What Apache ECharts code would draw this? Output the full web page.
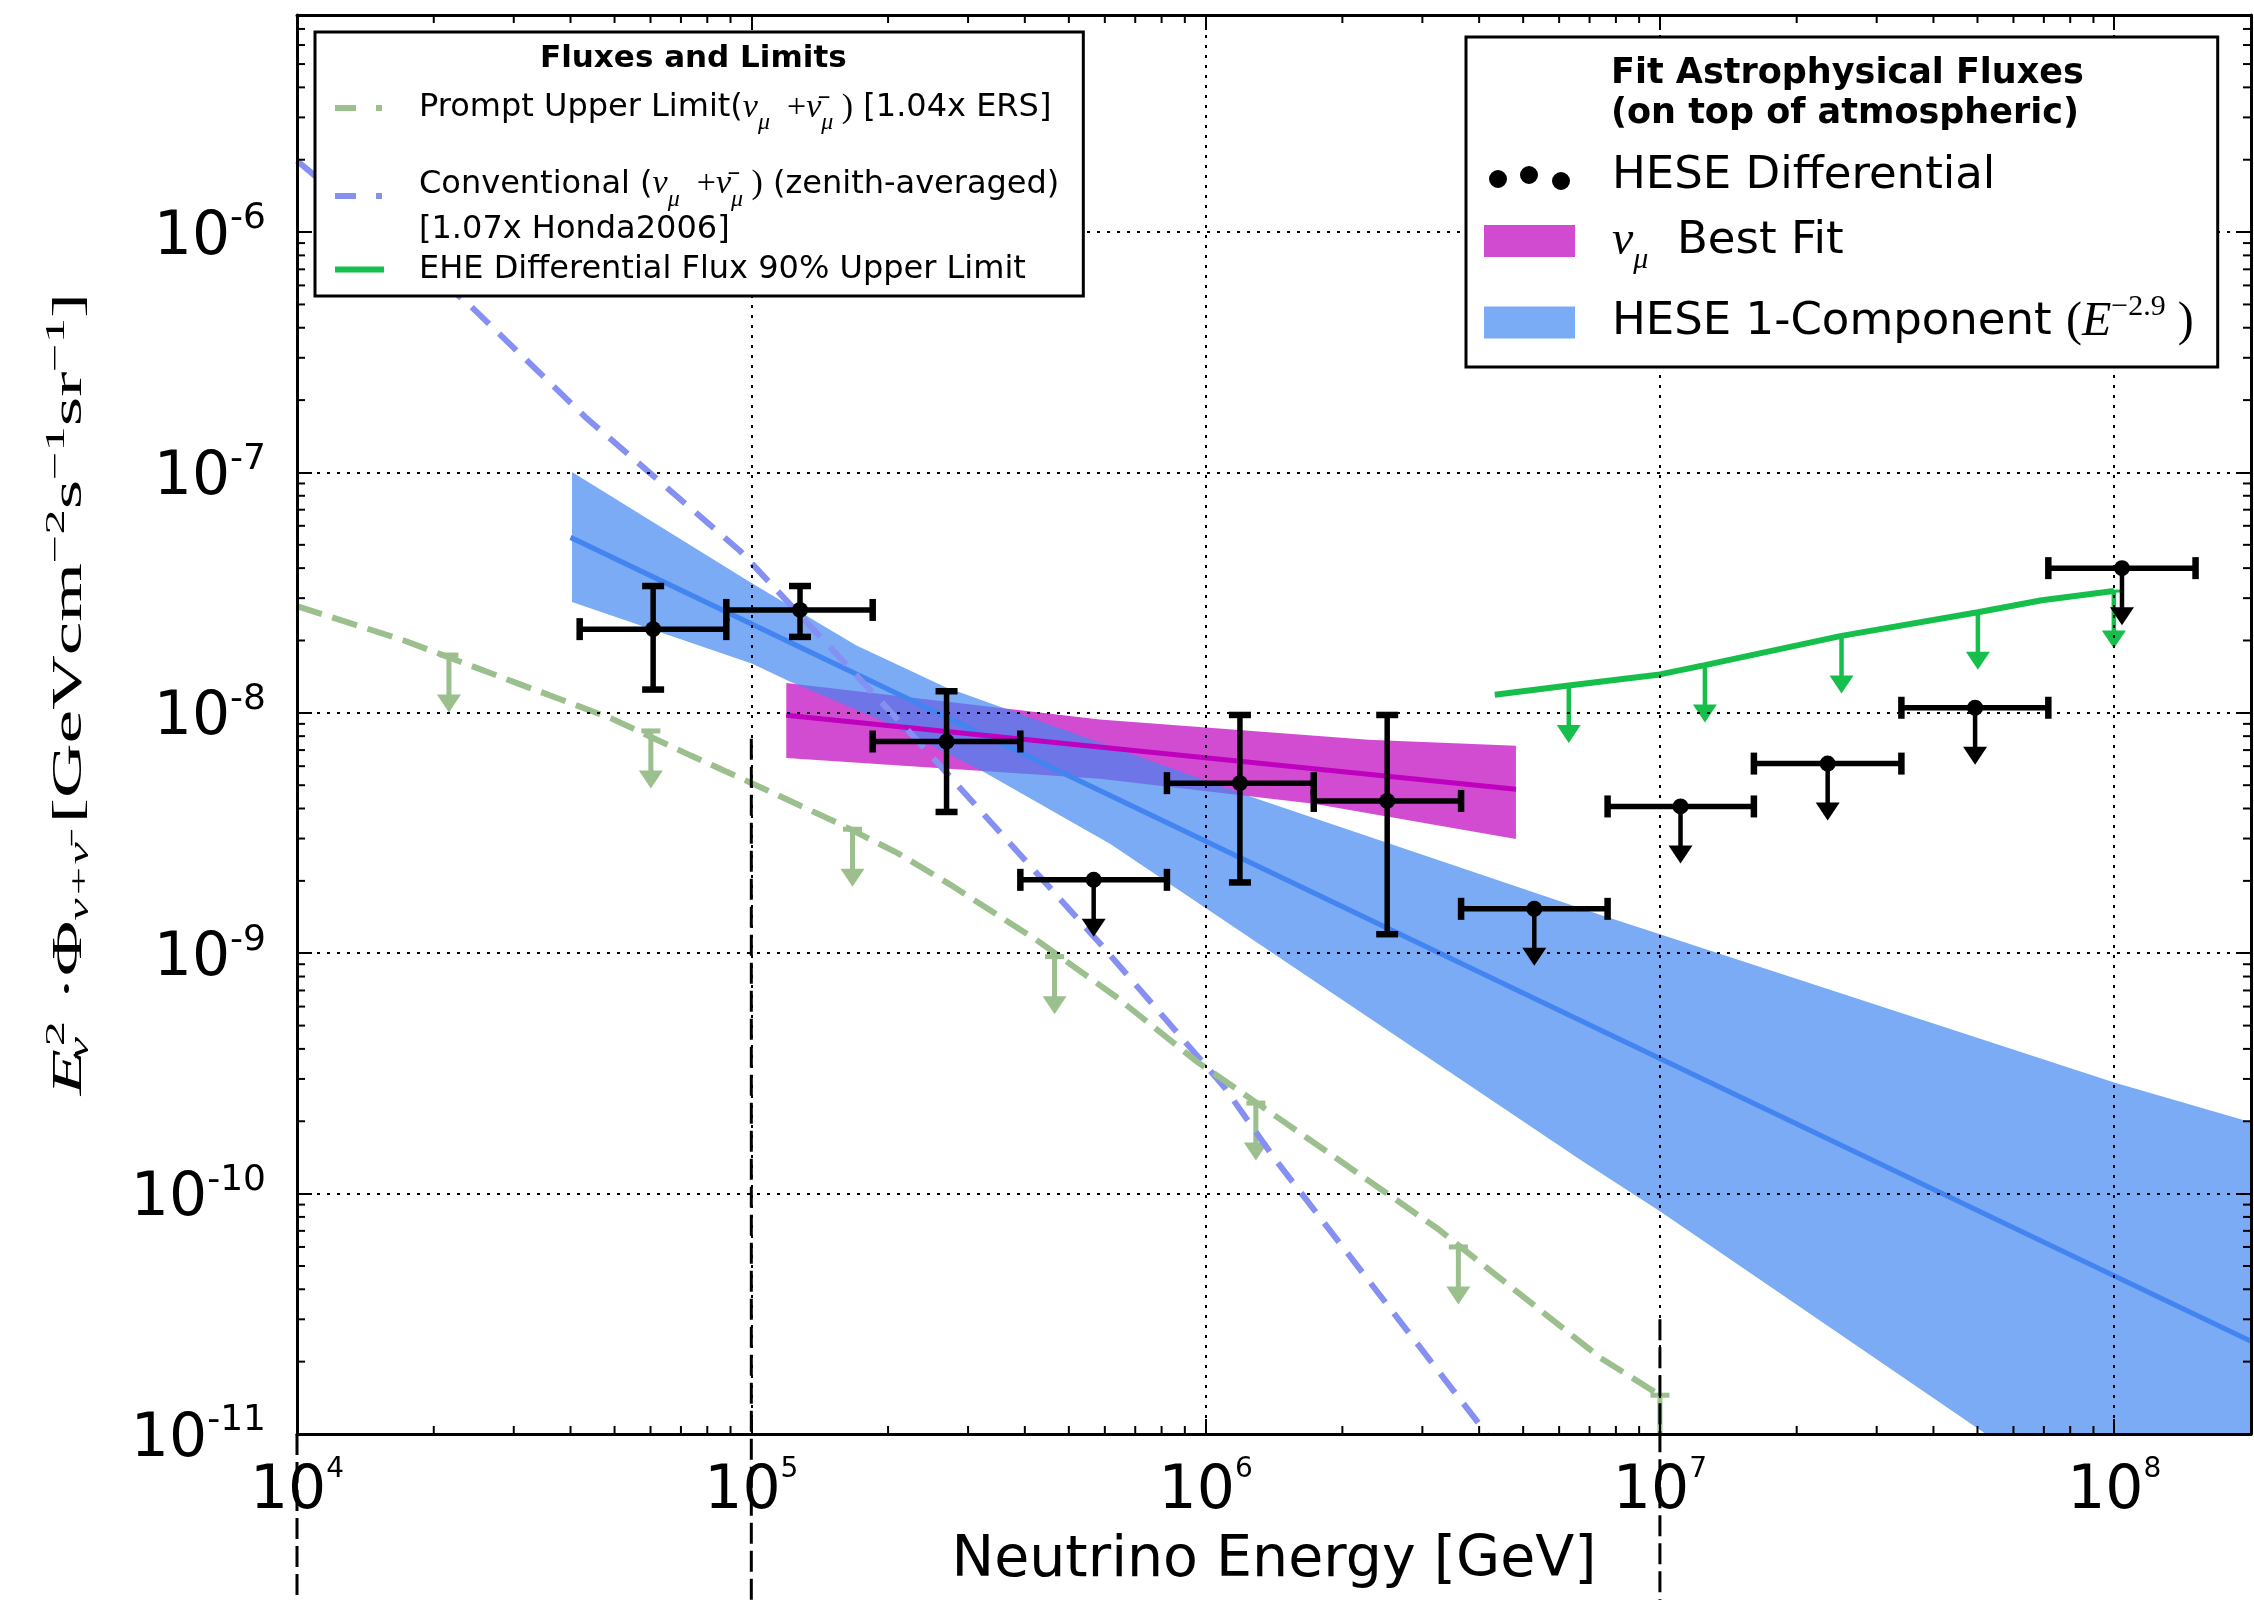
<!DOCTYPE html>
<html>
<head>
<meta charset="utf-8">
<title>Astrophysical neutrino fluxes</title>
<script src="https://cdn.jsdelivr.net/npm/echarts@6/dist/echarts.min.js"></script>
<style>
html,body{margin:0;padding:0;background:#fff;}
#chart{width:2254px;height:1600px;}
</style>
</head>
<body>
<div id="chart"></div>
<script>
// ---------------- axis ranges / ticks ----------------
const X_RANGE = [1e4, 2e8];
const Y_RANGE = [1e-11, 8e-6];
const MINOR_MANTISSAS = [2, 3, 4, 5, 6, 7, 8, 9];
const X_DECADES = [1e4, 1e5, 1e6, 1e7, 1e8];
const Y_DECADES = [1e-11, 1e-10, 1e-9, 1e-8, 1e-7, 1e-6];

// ---------------- HESE differential points ----------------
const heseE   = [6.08e4, 1.28e5, 2.69e5, 5.67e5, 1.19e6, 2.51e6, 5.29e6, 1.11e7, 2.34e7, 4.94e7, 1.04e8];
const heseELo = [4.19e4, 8.81e4, 1.85e5, 3.91e5, 8.22e5, 1.73e6, 3.65e6, 7.67e6, 1.61e7, 3.40e7, 7.16e7];
const heseEHi = [8.81e4, 1.85e5, 3.91e5, 8.22e5, 1.73e6, 3.65e6, 7.67e6, 1.61e7, 3.40e7, 7.16e7, 1.51e8];
const heseF   = [2.23e-8, 2.68e-8, 7.6e-9, 2.02e-9, 5.1e-9, 4.3e-9, 1.53e-9, 4.08e-9, 6.15e-9, 1.05e-8, 4.0e-8];
const heseFLo = [1.25e-8, 2.07e-8, 3.87e-9, null, 1.97e-9, 1.2e-9, null, null, null, null, null];
const heseFHi = [3.37e-8, 3.37e-8, 1.23e-8, null, 9.8e-9, 9.8e-9, null, null, null, null, null];
const heseUL  = [0, 0, 0, 1, 0, 0, 1, 1, 1, 1, 1];

// ---------------- HESE 1-component (E^-2.9) band ----------------
const hese1UpperE = [4.03e4, 1.005e5, 1.70e5, 2.67e5, 1.23e6, 7.38e6, 1.0e7, 1.0e8, 2.0e8];
const hese1UpperF = [1.005e-7, 3.45e-8, 1.91e-8, 1.28e-8, 4.54e-9, 1.445e-9, 1.20e-9, 2.90e-10, 1.98e-10];
const hese1LowerE = [4.03e4, 1.005e5, 1.205e5, 1.93e5, 3.20e5, 6.17e5, 6.73e6, 1.0e7, 5.22e7, 2.0e8];
const hese1LowerF = [2.89e-8, 1.60e-8, 1.36e-8, 9.31e-9, 5.77e-9, 2.85e-9, 1.37e-10, 8.45e-11, 1.0e-11, 1.0e-11];
const hese1LineE  = [4.0e4, 2.0e8];
const hese1LineF  = [5.37e-8, 2.43e-11];

// ---------------- numu best fit band ----------------
const numuUpperE = [1.194e5, 5.85e5, 2.28e6, 4.82e6];
const numuUpperF = [1.33e-8, 9.38e-9, 7.73e-9, 7.29e-9];
const numuLowerE = [1.194e5, 5.85e5, 1.73e6, 4.82e6];
const numuLowerF = [6.49e-9, 5.32e-9, 4.19e-9, 2.99e-9];
const numuLineE  = [1.194e5, 4.82e6];
const numuLineF  = [9.77e-9, 4.81e-9];

// ---------------- conventional atmospheric ----------------
const convE = [1.0e4, 2.38e4, 4.34e4, 9.42e4, 2.36e5, 5.85e5, 1.10e6, 1.41e6, 4.16e6];
const convF = [1.98e-6, 5.04e-7, 1.68e-7, 4.74e-8, 7.41e-9, 1.10e-9, 2.77e-10, 1.42e-10, 1.0e-11];

// ---------------- prompt upper limit ----------------
const promptE = [1.0e4, 1.72e4, 3.08e4, 4.90e4, 7.36e4, 1.08e5, 1.57e5, 2.10e5, 2.74e5, 4.23e5, 6.35e5, 9.55e5, 1.51e6, 3.23e6, 7.38e6, 1.0e7];
const promptF = [2.78e-8, 2.0e-8, 1.32e-8, 9.51e-9, 6.64e-9, 4.78e-9, 3.44e-9, 2.61e-9, 1.93e-9, 1.14e-9, 6.59e-10, 3.55e-10, 1.95e-10, 7.18e-11, 2.08e-11, 1.45e-11];
const promptArrowE = [2.16e4, 6.01e4, 1.67e5, 4.65e5, 1.29e6, 3.60e6, 1.0e7];
const promptArrowF = [1.74e-8, 8.41e-9, 3.28e-9, 9.68e-10, 2.38e-10, 6.0e-11, 1.45e-11];

// ---------------- EHE differential 90% upper limit ----------------
const eheE = [4.33e6, 6.30e6, 1.0e7, 1.256e7, 2.51e7, 5.01e7, 6.93e7, 9.98e7];
const eheF = [1.19e-8, 1.30e-8, 1.445e-8, 1.58e-8, 2.09e-8, 2.62e-8, 2.94e-8, 3.21e-8];
const eheArrowE = [6.30e6, 1.256e7, 2.51e7, 5.01e7, 9.98e7];
const eheArrowF = [1.30e-8, 1.58e-8, 2.09e-8, 2.62e-8, 3.21e-8];

// ---------------- vertical dashed guides (below the plot) ----------------
const guideE = [1e4, 1e5, 1e7];
const guideF = [1e-11, 7.8e-9, 3.0e-11];

// ---------------- colours ----------------
const COL = {
  hese1Band: 'rgba(66,135,240,0.7)', hese1Line: '#4285f0', hese1Legend: '#7aabf5',
  numuBand: 'rgba(191,0,191,0.7)', numuLine: '#bf00bf', numuLegend: '#d14bd1',
  conv: '#8590f2', prompt: '#9bbf8d', ehe: '#16bf4b', black: '#000'
};

const NAMES = {
  prompt: 'Prompt Upper Limit',
  conv: 'Conventional',
  ehe: 'EHE Differential Flux 90% Upper Limit',
  hese: 'HESE Differential',
  numu: 'Best Fit',
  hese1: 'HESE 1-Component'
};

const LEGEND_LABELS = {};
LEGEND_LABELS[NAMES.prompt] = '{p|Prompt Upper Limit(}{pm|ν}{ps|μ}{pn|  +}{pm|ν̄}{ps|μ}{pn| )}{p| [1.04x ERS]}';
LEGEND_LABELS[NAMES.conv] = '{cg| }\n{c|Conventional (}{cm|ν}{cs|μ}{cn|  +}{cm|ν̄}{cs|μ}{cn| )}{c| (zenith-averaged)}\n{c|[1.07x Honda2006]}';
LEGEND_LABELS[NAMES.ehe] = '{e|EHE Differential Flux 90% Upper Limit}';
LEGEND_LABELS[NAMES.hese] = '{r|HESE Differential}';
LEGEND_LABELS[NAMES.numu] = '{rm|ν}{rs|μ}{rb|  Best Fit}';
LEGEND_LABELS[NAMES.hese1] = '{t|HESE 1-Component }{tn|(}{ti|E}{tp|−2.9}{tn| )}';

const SANS = 'DejaVu Sans';
const SERIF = 'Liberation Serif';

function rs(size, lh, family, extra) {
  return Object.assign({fontSize: size, lineHeight: lh, fontFamily: family, color: '#000'}, extra || {});
}
const LEFT_RICH = {
  p: rs(32, 64, SANS), pm: rs(34, 64, SERIF, {fontStyle: 'italic'}), pn: rs(34, 64, SERIF),
  ps: rs(24, 64, SERIF, {fontStyle: 'italic', padding: [30, 0, 0, 0]}),
  cg: rs(10, 22, SANS),
  c: rs(32, 45, SANS), cm: rs(34, 45, SERIF, {fontStyle: 'italic'}), cn: rs(34, 45, SERIF),
  cs: rs(24, 45, SERIF, {fontStyle: 'italic', padding: [30, 0, 0, 0]}),
  e: rs(32, 35, SANS)
};
const RIGHT_RICH = {
  r: rs(45, 56, SANS),
  rb: rs(45, 68, SANS), rm: rs(48, 68, SERIF, {fontStyle: 'italic'}),
  rs: rs(30, 68, SERIF, {fontStyle: 'italic', verticalAlign: 'bottom'}),
  t: rs(45, 89, SANS), tn: rs(48, 89, SERIF), ti: rs(48, 89, SERIF, {fontStyle: 'italic'}),
  tp: rs(30, 89, SERIF, {padding: [0, 0, 30, 0]})
};

const ICON_DASH = 'path://M0,0M49,7M0,0.5H21V6.5H0ZM41,0.5H47V6.5H41Z';
const ICON_SOLID = 'path://M0,0M49,7M0,0.5H49V6.5H0Z';
const ICON_DOTS = 'path://M0,0M91,32M5,19a9,9 0 1,0 18,0a9,9 0 1,0 -18,0ZM36,15a9,9 0 1,0 18,0a9,9 0 1,0 -18,0ZM68,21a9,9 0 1,0 18,0a9,9 0 1,0 -18,0Z';

// ---------------- helpers ----------------
function powLabel(v) {
  const e = Math.log10(v), r = Math.round(e);
  if (Math.abs(e - r) > 1e-6) return '';
  return '{b|10}{s|' + r + '}';
}
function pairs(xs, ys) { return xs.map(function (x, i) { return [x, ys[i]]; }); }

function bandRenderer(upE, upF, loE, loF, fill) {
  return function (params, api) {
    const pts = [];
    for (let i = 0; i < upE.length; i++) pts.push(api.coord([upE[i], upF[i]]));
    for (let i = loE.length - 1; i >= 0; i--) pts.push(api.coord([loE[i], loF[i]]));
    return {type: 'polygon', shape: {points: pts}, style: {fill: fill}};
  };
}

function arrowShapes(x, y, len, color, shaftW, capW, capLW, bottom) {
  const out = [];
  const headH = 18, headHalf = 12;
  if (capW) out.push({type: 'line', shape: {x1: x - capW / 2, y1: y, x2: x + capW / 2, y2: y}, style: {stroke: color, lineWidth: capLW}});
  const tip = y + len;
  if (tip - headH >= bottom) {
    out.push({type: 'line', shape: {x1: x, y1: y, x2: x, y2: bottom}, style: {stroke: color, lineWidth: shaftW}});
  } else {
    out.push({type: 'line', shape: {x1: x, y1: y, x2: x, y2: tip - headH + 2}, style: {stroke: color, lineWidth: shaftW}});
    out.push({type: 'polygon', shape: {points: [[x - headHalf, tip - headH], [x + headHalf, tip - headH], [x, tip]]}, style: {fill: color}});
  }
  return out;
}

function heseRender(params, api) {
  const E = api.value(0), F = api.value(1), Elo = api.value(2), Ehi = api.value(3);
  const Flo = api.value(4), Fhi = api.value(5), ul = api.value(6);
  const cs = params.coordSys;
  const c = api.coord([E, F]);
  const l = api.coord([Elo, F]);
  const r = api.coord([Ehi, F]);
  const k = [];
  const st = {stroke: '#000', lineWidth: 5.5};
  const cap = {stroke: '#000', lineWidth: 6.5};
  const h = 11;
  k.push({type: 'line', shape: {x1: l[0], y1: c[1], x2: r[0], y2: c[1]}, style: st});
  k.push({type: 'line', shape: {x1: l[0], y1: c[1] - h, x2: l[0], y2: c[1] + h}, style: cap});
  k.push({type: 'line', shape: {x1: r[0], y1: c[1] - h, x2: r[0], y2: c[1] + h}, style: cap});
  if (!ul) {
    const lo = api.coord([E, Flo]), hi = api.coord([E, Fhi]);
    k.push({type: 'line', shape: {x1: c[0], y1: lo[1], x2: c[0], y2: hi[1]}, style: st});
    k.push({type: 'line', shape: {x1: c[0] - h, y1: lo[1], x2: c[0] + h, y2: lo[1]}, style: cap});
    k.push({type: 'line', shape: {x1: c[0] - h, y1: hi[1], x2: c[0] + h, y2: hi[1]}, style: cap});
  } else {
    arrowShapes(c[0], c[1], 57, '#000', 4.5, 0, 0, cs.y + cs.height).forEach(function (s) { k.push(s); });
  }
  k.push({type: 'circle', shape: {cx: c[0], cy: c[1], r: 8}, style: {fill: '#000'}});
  return {type: 'group', children: k};
}

function limitArrowRenderer(color, shaftW, capW, capLW) {
  return function (params, api) {
    const cs = params.coordSys;
    const p = api.coord([api.value(0), api.value(1)]);
    return {type: 'group', children: arrowShapes(p[0], p[1], 57.5, color, shaftW, capW, capLW, cs.y + cs.height)};
  };
}

function minorXRender(params, api) {
  const cs = params.coordSys;
  const x = api.coord([api.value(0), Y_RANGE[0]])[0];
  const b = cs.y + cs.height, t = cs.y;
  return {type: 'group', children: [
    {type: 'line', shape: {x1: x, y1: b, x2: x, y2: b - 8}, style: {stroke: '#000', lineWidth: 2}},
    {type: 'line', shape: {x1: x, y1: t, x2: x, y2: t + 8}, style: {stroke: '#000', lineWidth: 2}}
  ]};
}
function minorYRender(params, api) {
  const cs = params.coordSys;
  const y = api.coord([X_RANGE[0], api.value(1)])[1];
  const l = cs.x, r = cs.x + cs.width;
  return {type: 'group', children: [
    {type: 'line', shape: {x1: l, y1: y, x2: l + 8, y2: y}, style: {stroke: '#000', lineWidth: 2}},
    {type: 'line', shape: {x1: r, y1: y, x2: r - 8, y2: y}, style: {stroke: '#000', lineWidth: 2}}
  ]};
}
function guideRender(params, api) {
  const p = api.coord([api.value(0), api.value(1)]);
  return {type: 'line', shape: {x1: p[0], y1: p[1], x2: p[0], y2: api.getHeight()}, style: {stroke: '#000', lineWidth: 3, lineDash: [21, 7]}};
}

// minor tick value lists
const xMinor = [], yMinor = [];
X_DECADES.forEach(function (d) { MINOR_MANTISSAS.forEach(function (m) { const v = d * m; if (v > X_RANGE[0] && v < X_RANGE[1] * 0.999) xMinor.push([v, Y_RANGE[0]]); }); });
Y_DECADES.forEach(function (d) { MINOR_MANTISSAS.forEach(function (m) { const v = d * m; if (v > Y_RANGE[0] && v < Y_RANGE[1] * 0.999) yMinor.push([X_RANGE[0], v]); }); });

const heseRows = heseE.map(function (e, i) {
  return [e, heseF[i], heseELo[i], heseEHi[i], heseFLo[i] || heseF[i], heseFHi[i] || heseF[i], heseUL[i]];
});

const axisBase = {
  type: 'log', logBase: 10,
  axisLine: {show: true, onZero: false, lineStyle: {color: '#000', width: 3}},
  axisTick: {show: true, inside: true, length: 15, lineStyle: {color: '#000', width: 2}},
  z: 3
};
const LABEL_X_RICH = {
  b: {fontSize: 60, lineHeight: 70, fontFamily: SANS, color: '#000'},
  s: {fontSize: 28, lineHeight: 70, fontFamily: SANS, color: '#000', padding: [0, 0, 44, 0]}
};
const LABEL_Y_RICH = {
  b: {fontSize: 60, lineHeight: 70, fontFamily: SANS, color: '#000', padding: [12, 0, 0, 0]},
  s: {fontSize: 36, lineHeight: 70, fontFamily: SANS, color: '#000', padding: [0, 0, 26, 0]}
};

const Y_TITLE = '{i|E}{sb|ν}{sp|2}{n| ·}{n|Φ}{sb2|ν+ν̄}{n| [GeVcm}{sp2|−2}{n|s}{sp2|−1}{n|sr}{sp2|−1}{n|]}';

const TRANSPARENT = 'rgba(255,255,255,0)';

const option = {
  animation: false,
  backgroundColor: '#fff',
  textStyle: {fontFamily: SANS, color: '#000'},
  grid: {left: 297, right: 2, top: 15, bottom: 166},
  xAxis: [
    Object.assign({}, axisBase, {
      min: X_RANGE[0], max: X_RANGE[1], position: 'bottom',
      axisLabel: {show: true, margin: 23, formatter: powLabel, rich: LABEL_X_RICH, color: '#000'},
      splitLine: {show: true, lineStyle: {color: '#000', width: 2, type: [3, 7]}},
      name: 'Neutrino Energy [GeV]', nameLocation: 'middle', nameGap: 86,
      nameTextStyle: {fontSize: 57, color: '#000', fontFamily: SANS}
    }),
    Object.assign({}, axisBase, {
      min: X_RANGE[0], max: X_RANGE[1], position: 'top',
      axisLabel: {show: false}, splitLine: {show: false}
    })
  ],
  yAxis: [
    Object.assign({}, axisBase, {
      min: Y_RANGE[0], max: Y_RANGE[1], position: 'left',
      axisLabel: {show: true, margin: 31, formatter: powLabel, rich: LABEL_Y_RICH, color: '#000'},
      splitLine: {show: true, lineStyle: {color: '#000', width: 2, type: [3, 7]}}
    }),
    Object.assign({}, axisBase, {
      min: Y_RANGE[0], max: Y_RANGE[1], position: 'right',
      axisLabel: {show: false}, splitLine: {show: false}
    })
  ],
  title: [
    {text: 'Fluxes and Limits', left: 540, top: 41, padding: 0, z: 6,
     textStyle: {fontSize: 31, fontWeight: 'bold', color: '#000', fontFamily: SANS, lineHeight: 36}},
    {text: 'Fit Astrophysical Fluxes\n(on top of atmospheric)', left: 1611, top: 54, padding: 0, z: 6,
     textStyle: {fontSize: 35, fontWeight: 'bold', color: '#000', fontFamily: SANS, lineHeight: 40}}
  ],
  legend: [
    {
      orient: 'vertical', left: 315, top: 32, padding: [44, 24, 9, 20],
      itemGap: 0, itemWidth: 49, itemHeight: 7, selectedMode: false, z: 4,
      backgroundColor: '#fff', borderColor: '#000', borderWidth: 3, borderRadius: 0,
      textStyle: {color: '#000', fontFamily: SANS, fontSize: 32, padding: [0, 0, 0, 30],
                  backgroundColor: TRANSPARENT, rich: LEFT_RICH},
      formatter: function (n) { return LEGEND_LABELS[n]; },
      data: [
        {name: NAMES.prompt, icon: ICON_DASH, itemStyle: {color: COL.prompt, borderWidth: 0}},
        {name: NAMES.conv, icon: ICON_DASH, itemStyle: {color: COL.conv, borderWidth: 0}},
        {name: NAMES.ehe, icon: ICON_SOLID, itemStyle: {color: COL.ehe, borderWidth: 0}}
      ]
    },
    {
      orient: 'vertical', left: 1466, top: 37, padding: [111, 24, 0, 18],
      itemGap: 3, itemWidth: 91, itemHeight: 32, selectedMode: false, z: 4,
      backgroundColor: '#fff', borderColor: '#000', borderWidth: 3, borderRadius: 0,
      textStyle: {color: '#000', fontFamily: SANS, fontSize: 45, padding: [0, 0, 0, 32],
                  backgroundColor: TRANSPARENT, rich: RIGHT_RICH},
      formatter: function (n) { return LEGEND_LABELS[n]; },
      data: [
        {name: NAMES.hese, icon: ICON_DOTS, itemStyle: {color: '#000', borderWidth: 0}},
        {name: NAMES.numu, icon: 'rect', itemStyle: {color: COL.numuLegend, borderWidth: 0}},
        {name: NAMES.hese1, icon: 'rect', itemStyle: {color: COL.hese1Legend, borderWidth: 0}}
      ]
    }
  ],
  graphic: [
    {type: 'text', x: 70, y: 694, rotation: Math.PI / 2, scaleX: 1.8, scaleY: 1, z: 10,
     style: {text: Y_TITLE, align: 'center', verticalAlign: 'middle', fill: '#000',
       fontSize: 42, fontFamily: SERIF,
       rich: {
         i: {fontSize: 42, fontFamily: SERIF, fontStyle: 'italic', fill: '#000'},
         n: {fontSize: 42, fontFamily: SERIF, fill: '#000'},
         sb: {fontSize: 28, fontFamily: SERIF, fontStyle: 'italic', fill: '#000', padding: [22, 0, 0, 0], width: 1},
         sp: {fontSize: 28, fontFamily: SERIF, fill: '#000', padding: [0, 0, 26, 0], width: 15},
         sb2: {fontSize: 28, fontFamily: SERIF, fontStyle: 'italic', fill: '#000', padding: [22, 0, 0, 0]},
         sp2: {fontSize: 28, fontFamily: SERIF, fill: '#000', padding: [0, 0, 26, 0]}
       }}}
  ],
  series: [
    {name: NAMES.numu, type: 'custom', z: 1, silent: true, clip: true,
     itemStyle: {color: COL.numuLegend},
     renderItem: bandRenderer(numuUpperE, numuUpperF, numuLowerE, numuLowerF, COL.numuBand),
     data: [[numuUpperE[0], numuUpperF[0]]], encode: {x: 0, y: 1}},
    {name: NAMES.hese1, type: 'custom', z: 1.5, silent: true, clip: true,
     itemStyle: {color: COL.hese1Legend},
     renderItem: bandRenderer(hese1UpperE, hese1UpperF, hese1LowerE, hese1LowerF, COL.hese1Band),
     data: [[hese1UpperE[0], hese1UpperF[0]]], encode: {x: 0, y: 1}},
    {name: 'hese1-line', type: 'line', z: 2, silent: true, symbol: 'none',
     lineStyle: {color: COL.hese1Line, width: 5}, itemStyle: {color: COL.hese1Line},
     data: pairs(hese1LineE, hese1LineF)},
    {name: 'numu-line', type: 'line', z: 2, silent: true, symbol: 'none',
     lineStyle: {color: COL.numuLine, width: 5}, itemStyle: {color: COL.numuLine},
     data: pairs(numuLineE, numuLineF)},
    {name: NAMES.conv, type: 'line', z: 2, silent: true, symbol: 'none',
     lineStyle: {color: COL.conv, width: 6, type: [24, 14]}, itemStyle: {color: COL.conv},
     data: pairs(convE, convF)},
    {name: NAMES.prompt, type: 'line', z: 2, silent: true, symbol: 'none',
     lineStyle: {color: COL.prompt, width: 6, type: [26, 11]}, itemStyle: {color: COL.prompt},
     data: pairs(promptE, promptF)},
    {name: 'prompt-arrows', type: 'custom', z: 2, silent: true,
     renderItem: limitArrowRenderer(COL.prompt, 5, 19, 5),
     data: pairs(promptArrowE, promptArrowF), encode: {x: 0, y: 1}},
    {name: NAMES.ehe, type: 'line', z: 2, silent: true, symbol: 'none',
     lineStyle: {color: COL.ehe, width: 6}, itemStyle: {color: COL.ehe},
     data: pairs(eheE, eheF)},
    {name: 'ehe-arrows', type: 'custom', z: 2, silent: true,
     renderItem: limitArrowRenderer(COL.ehe, 4.5, 14, 3),
     data: pairs(eheArrowE, eheArrowF), encode: {x: 0, y: 1}},
    {name: NAMES.hese, type: 'custom', z: 2.5, silent: true,
     itemStyle: {color: '#000'},
     renderItem: heseRender, data: heseRows, encode: {x: 0, y: 1}},
    {name: 'minor-x', type: 'custom', z: 3, silent: true, renderItem: minorXRender, data: xMinor, encode: {x: 0, y: 1}},
    {name: 'minor-y', type: 'custom', z: 3, silent: true, renderItem: minorYRender, data: yMinor, encode: {x: 0, y: 1}},
    {name: 'guides', type: 'custom', z: 3, silent: true, renderItem: guideRender,
     data: pairs(guideE, guideF), encode: {x: 0, y: 1}}
  ]
};

const chart = echarts.init(document.getElementById('chart'), null, {renderer: 'canvas', width: 2254, height: 1600});
chart.setOption(option);
</script>
</body>
</html>
